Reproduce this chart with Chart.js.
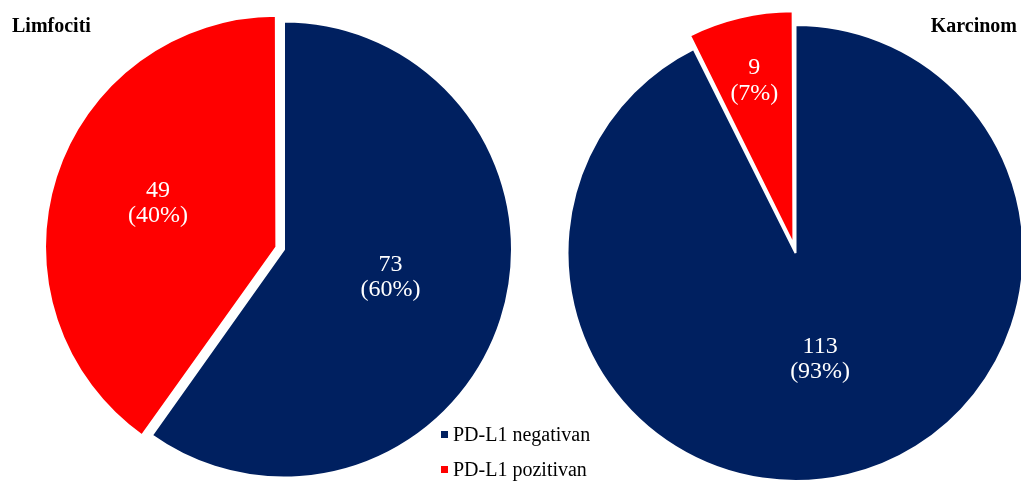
<!DOCTYPE html>
<html>
<head>
<meta charset="utf-8">
<title>PD-L1</title>
<script src="https://cdn.jsdelivr.net/npm/chart.js@4.4.0/dist/chart.umd.min.js"></script>
<style>
  html, body { margin: 0; padding: 0; background: #fff; overflow: hidden; }
  body { width: 1021px; height: 481px; position: relative; }
  .wrap { position: absolute; left: 0; top: 0; width: 1021px; height: 481px; }
</style>
</head>
<body>
<div class="wrap"><canvas id="limfChart"></canvas></div>
<div class="wrap"><canvas id="karcChart"></canvas></div>

<script>
/* --- Data --- */
const labels = ['PD-L1 negativan', 'PD-L1 pozitivan'];
const limfocitiValues = [73, 49];
const karcinomValues = [113, 9];
const colors = ['#002060', '#FF0000'];

const FONT = '"Liberation Serif", "Times New Roman", serif';

/* --- Slice labels: value + (percent) in white --- */
// note: chart.js v4 draws arc offset as offset/4 px
const sliceLabels = {
  id: 'sliceLabels',
  afterDatasetsDraw(chart, args, opts) {
    const ctx = chart.ctx;
    const ds = chart.data.datasets[0];
    const total = ds.data.reduce((a, b) => a + b, 0);
    const arcs = chart.getDatasetMeta(0).data;
    ctx.save();
    ctx.fillStyle = '#fff';
    ctx.font = '24px ' + FONT;
    ctx.textAlign = 'center';
    ctx.textBaseline = 'alphabetic';
    arcs.forEach((arc, i) => {
      const p = arc.getProps(['x', 'y', 'startAngle', 'endAngle', 'outerRadius']);
      const mid = (p.startAngle + p.endAngle) / 2;
      const d = opts.pos[i] * p.outerRadius + (ds.offset[i] || 0) / 4;
      const cx = p.x + Math.cos(mid) * d;
      const cy = p.y + Math.sin(mid) * d + opts.shiftY;
      const pct = Math.round(ds.data[i] / total * 100);
      ctx.fillText(String(ds.data[i]), cx, cy - 4.5);
      ctx.fillText('(' + pct + '%)', cx, cy + 21);
    });
    ctx.restore();
  }
};

/* --- Titles and shared legend drawn on the canvas --- */
const extras = {
  id: 'extras',
  afterDraw(chart, args, opts) {
    const ctx = chart.ctx;
    ctx.save();
    ctx.fillStyle = '#000';
    ctx.font = 'bold 20px ' + FONT;
    ctx.textBaseline = 'alphabetic';
    ctx.textAlign = opts.titleAlign;
    ctx.fillText(opts.title, opts.titleX, 32);

    if (opts.legend) {
      ctx.font = '20px ' + FONT;
      ctx.textAlign = 'left';
      labels.forEach((lab, i) => {
        const y = 441 + i * 35;
        ctx.fillStyle = colors[i];
        ctx.fillRect(441, y - 10, 7, 7);
        ctx.fillStyle = '#000';
        ctx.fillText(lab, 453, y);
      });
    }
    ctx.restore();
  }
};

function makePie(el, values, offsets, radius, padding, labelOpts, extraOpts) {
  return new Chart(document.getElementById(el), {
    type: 'pie',
    data: {
      labels: labels,
      datasets: [{
        data: values,
        backgroundColor: colors,
        borderColor: '#fff',
        borderWidth: 2,
        offset: offsets,
        clip: false
      }]
    },
    options: {
      responsive: true,
      maintainAspectRatio: false,
      animation: false,
      radius: radius,
      layout: { padding: padding },
      plugins: {
        legend: { display: false },
        tooltip: { enabled: false },
        sliceLabels: labelOpts,
        extras: extraOpts
      }
    },
    plugins: [sliceLabels, extras]
  });
}

/* --- Limfociti (left) --- */
makePie('limfChart', limfocitiValues, [0, 32], 228,
  { left: 0, right: 453, top: 18, bottom: 0 },
  { pos: [0.49, 0.545], shiftY: -8 },
  { title: 'Limfociti', titleX: 12, titleAlign: 'left', legend: true });

/* --- Karcinom (right) --- */
makePie('karcChart', karcinomValues, [0, 36], 228,
  { left: 570, right: 0, top: 25, bottom: 0 },
  { pos: [0.47, 0.746], shiftY: 0 },
  { title: 'Karcinom', titleX: 1017, titleAlign: 'right', legend: false });
</script>
</body>
</html>
